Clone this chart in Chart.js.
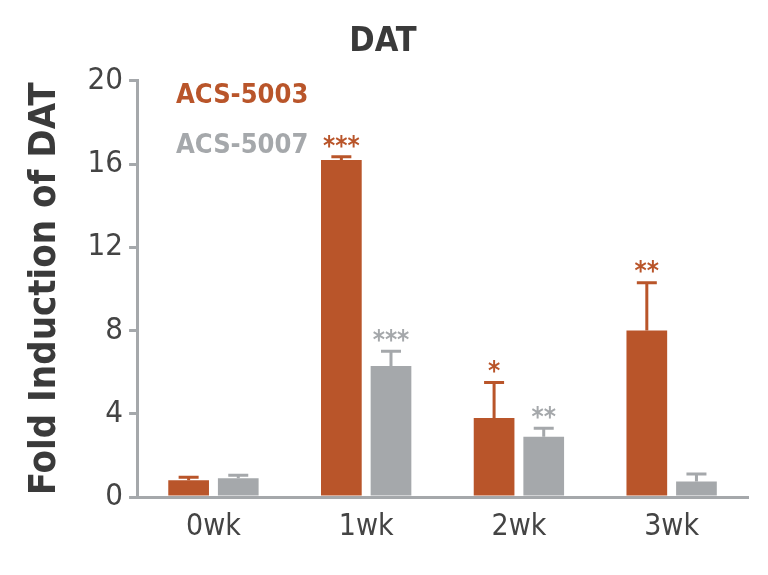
<!DOCTYPE html>
<html>
<head>
<script src="https://cdn.jsdelivr.net/npm/chart.js@4"></script>
<style>
  body { margin: 0; background: #fff; }
  #wrap { width: 768px; height: 575px; }
</style>
</head>
<body>
<div id="wrap"><canvas id="chart"></canvas></div>
<script>
const categories = ['0wk', '1wk', '2wk', '3wk'];
const acs5003 = [0.8, 16.2, 3.8, 8.0];
const acs5003Err = [0.95, 16.35, 5.5, 10.3];
const acs5003Stars = ['', '***', '*', '**'];
const acs5007 = [0.9, 6.3, 2.9, 0.75];
const acs5007Err = [1.05, 7.0, 3.3, 1.1];
const acs5007Stars = ['', '***', '**', ''];
const yTicks = [0, 4, 8, 12, 16, 20];

const ORANGE = '#b9552a';
const GREY = '#a5a8ab';
const FONT = '"Liberation Sans Narrow", "DejaVu Sans Condensed", "Liberation Sans", sans-serif';

const errors = [acs5003Err, acs5007Err];
const stars = [acs5003Stars, acs5007Stars];

const errorBars = {
    id: 'errorBars',
    afterDatasetsDraw(chart) {
        const ctx = chart.ctx;
        const y = chart.scales.y;
        chart.data.datasets.forEach((ds, di) => {
            const meta = chart.getDatasetMeta(di);
            meta.data.forEach((bar, i) => {
                const top = y.getPixelForValue(errors[di][i]);
                ctx.save();
                ctx.strokeStyle = ds.backgroundColor;
                ctx.lineWidth = 3;
                ctx.beginPath();
                ctx.moveTo(bar.x, bar.y);
                ctx.lineTo(bar.x, top);
                ctx.moveTo(bar.x - 10, top);
                ctx.lineTo(bar.x + 10, top);
                ctx.stroke();
                if (stars[di][i]) {
                    ctx.fillStyle = ds.backgroundColor;
                    ctx.font = 'bold 26px ' + FONT;
                    ctx.textAlign = 'center';
                    ctx.textBaseline = 'bottom';
                    ctx.fillText(stars[di][i], bar.x, top + 4);
                }
                ctx.restore();
            });
        });
        // legend text
        ctx.save();
        ctx.font = 'bold 27px ' + FONT;
        ctx.textBaseline = 'middle';
        ctx.fillStyle = ORANGE;
        ctx.fillText('ACS-5003', 176, 96);
        ctx.fillStyle = GREY;
        ctx.fillText('ACS-5007', 176, 146);
        ctx.restore();
    }
};

new Chart(document.getElementById('chart'), {
    type: 'bar',
    data: {
        labels: categories,
        datasets: [
            { label: 'ACS-5003', data: acs5003, backgroundColor: ORANGE },
            { label: 'ACS-5007', data: acs5007, backgroundColor: GREY }
        ]
    },
    options: {
        responsive: true,
        maintainAspectRatio: false,
        animation: false,
        layout: { padding: { left: 18, right: 20, top: 12, bottom: 18 } },
        categoryPercentage: 0.65,
        barPercentage: 0.82,
        plugins: {
            legend: { display: false },
            tooltip: { enabled: false },
            title: {
                display: true,
                text: 'DAT',
                color: '#3a3a3a',
                font: { family: FONT, size: 34, weight: 'bold' },
                padding: { top: 10, bottom: 18 }
            }
        },
        scales: {
            x: {
                grid: { display: false, drawTicks: false },
                border: { color: GREY, width: 3 },
                ticks: { color: '#444', font: { family: FONT, size: 30 }, padding: 12 }
            },
            y: {
                min: 0, max: 20,
                afterBuildTicks: (s) => { s.ticks = yTicks.map(v => ({ value: v })); },
                grid: { display: true, drawOnChartArea: false, drawTicks: true, tickLength: 8, color: GREY, lineWidth: 3 },
                border: { color: GREY, width: 3 },
                ticks: { color: '#444', font: { family: FONT, size: 31 }, padding: 6 },
                title: {
                    display: true,
                    text: 'Fold Induction of DAT',
                    color: '#3a3a3a',
                    font: { family: FONT, size: 38, weight: 'bold' },
                    padding: { bottom: 14 }
                }
            }
        }
    },
    plugins: [errorBars]
});
</script>
</body>
</html>
